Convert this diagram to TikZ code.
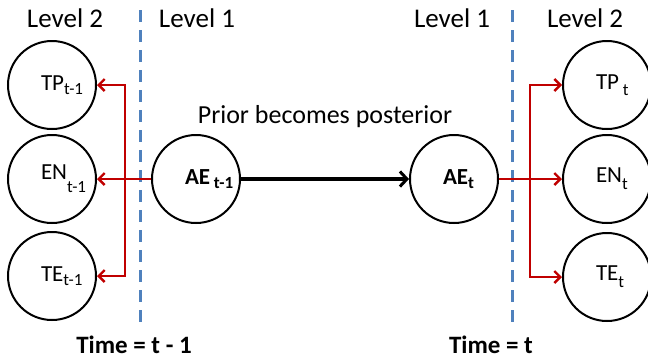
\documentclass[tikz,border=0pt]{standalone}
\usepackage{fontspec}
\setmainfont{Carlito}
\usetikzlibrary{arrows.meta}
\definecolor{divblue}{RGB}{79,129,189}
\definecolor{linkred}{RGB}{192,0,0}
% subscript with adjustable drop
\newcommand\lo[2][-3.5pt]{\raisebox{#1}{\fontsize{17}{20}\selectfont #2}}
% label box starting a little left of the circle centre
\newcommand\lbl[1]{\makebox[22pt][l]{#1}}
\begin{document}
\begin{tikzpicture}[x=1pt,y=-1pt,
  state/.style={circle,draw,line width=2pt,minimum size=88pt,inner sep=0pt,
    font=\fontsize{23}{27}\selectfont},
  heading/.style={font=\fontsize{27}{32}\selectfont,inner sep=0pt,anchor=base},
  timelabel/.style={font=\fontsize{25}{30}\selectfont\bfseries,inner sep=0pt,anchor=base},
  divider/.style={draw=divblue,line width=3pt,dash pattern=on 12pt off 8pt},
  link/.style={draw=linkred,line width=2.5pt,-{Straight Barb[length=6pt,width=12pt,line width=2.4pt]}},
  carry/.style={draw=black,line width=3.5pt,-{Straight Barb[length=7pt,width=15pt,line width=3pt]}}]
\useasboundingbox (0,0) rectangle (648,360);

% time-step dividers
\coordinate (d1t) at (140,10);
\coordinate (d1b) at (140,328);
\coordinate (d2t) at (512,10);
\coordinate (d2b) at (512,328);
\draw[divider] (d1t) -- (d1b);
\draw[divider] (d2t) -- (d2b);

% level headings
\node[heading] (h1) at (65,27) {Level 2};
\node[heading] (h2) at (197,27) {Level 1};
\node[heading] (h3) at (452,27) {Level 1};
\node[heading] (h4) at (585,27) {Level 2};

% states at time t-1
\node[state] (tp1) at (52,85) {\lbl{TP\lo{t-1}}};
\node[state] (en1) at (52,179) {\lbl{EN\lo[-13pt]{t-1}}};
\node[state] (te1) at (52,276) {\lbl{TE\lo{t-1}}};
\node[state] (ae1) at (196,179) {\lbl{\textbf{AE}\,\lo[-4pt]{\bfseries t-1}}};

% states at time t
\node[state] (ae2) at (454,179) {\lbl{\textbf{AE}\lo[-4pt]{\bfseries t}}};
\node[state] (tp2) at (607,85) {\lbl{TP\,\lo[-6pt]{t}}};
\node[state] (en2) at (607,179) {\lbl{EN\lo[-7pt]{t}}};
\node[state] (te2) at (607,277) {\lbl{TE\lo[-7pt]{t}}};

% prior becomes posterior
\draw[carry] (ae1) -- node[above=50pt,font=\fontsize{26}{31}\selectfont,inner sep=0pt] (pp) {Prior becomes posterior} (ae2);

% level 1 -> level 2 links
\coordinate (j1) at (125,179);
\coordinate (j2) at (530,179);
\draw[link] (ae1.west) -- (en1.east);
\draw[link] (j1) |- (tp1.east);
\draw[link] (j1) |- (te1.east);
\draw[link] (ae2.east) -- (en2.west);
\draw[link] (j2) |- (tp2.west);
\draw[link] (j2) |- (te2.west);

% time labels
\node[timelabel] (t1) at (134,353) {Time = t - 1};
\node[timelabel] (t2) at (491,353) {Time = t};
\end{tikzpicture}
\end{document}
